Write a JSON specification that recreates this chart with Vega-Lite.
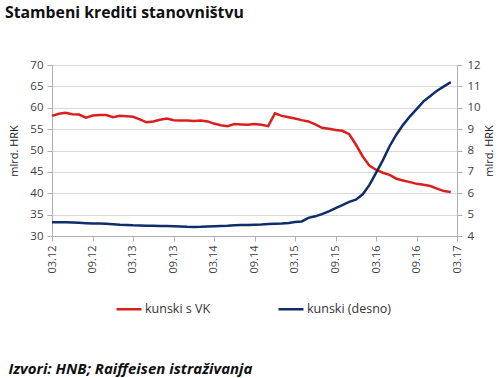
{
  "$schema": "https://vega.github.io/schema/vega-lite/v6.json",
  "width": 405,
  "height": 171,
  "autosize": {"type": "none"},
  "padding": {"left": 52, "top": 65, "right": 43, "bottom": 142},
  "background": "white",
  "title": {
    "text": "Stambeni krediti stanovništvu",
    "anchor": "start",
    "frame": "group",
    "dx": -47,
    "offset": 37,
    "font": "Open Sans",
    "fontSize": 15.8,
    "fontWeight": "bold",
    "color": "#111111"
  },
  "config": {
    "view": {"stroke": null},
    "axis": {
      "labelFont": "Open Sans",
      "labelFontSize": 11.5,
      "labelColor": "#404040",
      "titleFont": "Open Sans",
      "titleFontSize": 11,
      "titleFontWeight": "normal",
      "titleColor": "#222222",
      "domainColor": "#b0b0b0",
      "tickColor": "#b0b0b0",
      "gridColor": "#d9d9d9"
    },
    "legend": {"labelFont": "Open Sans", "labelFontSize": 12.5, "labelColor": "#333333"}
  },
  "data": {
    "values": [
      {"d": "2012-03-01", "vk": 58.1, "k": 4.64},
      {"d": "2012-04-01", "vk": 58.6, "k": 4.64},
      {"d": "2012-05-01", "vk": 58.8, "k": 4.64},
      {"d": "2012-06-01", "vk": 58.5, "k": 4.63},
      {"d": "2012-07-01", "vk": 58.4, "k": 4.62},
      {"d": "2012-08-01", "vk": 57.7, "k": 4.60},
      {"d": "2012-09-01", "vk": 58.2, "k": 4.58},
      {"d": "2012-10-01", "vk": 58.3, "k": 4.58},
      {"d": "2012-11-01", "vk": 58.3, "k": 4.57},
      {"d": "2012-12-01", "vk": 57.8, "k": 4.55},
      {"d": "2013-01-01", "vk": 58.1, "k": 4.53},
      {"d": "2013-02-01", "vk": 58.0, "k": 4.52},
      {"d": "2013-03-01", "vk": 57.9, "k": 4.50},
      {"d": "2013-04-01", "vk": 57.3, "k": 4.49},
      {"d": "2013-05-01", "vk": 56.6, "k": 4.48},
      {"d": "2013-06-01", "vk": 56.8, "k": 4.48},
      {"d": "2013-07-01", "vk": 57.2, "k": 4.47},
      {"d": "2013-08-01", "vk": 57.5, "k": 4.47},
      {"d": "2013-09-01", "vk": 57.1, "k": 4.46},
      {"d": "2013-10-01", "vk": 57.0, "k": 4.45},
      {"d": "2013-11-01", "vk": 57.0, "k": 4.43},
      {"d": "2013-12-01", "vk": 56.9, "k": 4.42},
      {"d": "2014-01-01", "vk": 57.0, "k": 4.43},
      {"d": "2014-02-01", "vk": 56.8, "k": 4.45},
      {"d": "2014-03-01", "vk": 56.3, "k": 4.46},
      {"d": "2014-04-01", "vk": 55.9, "k": 4.47},
      {"d": "2014-05-01", "vk": 55.7, "k": 4.48},
      {"d": "2014-06-01", "vk": 56.2, "k": 4.50},
      {"d": "2014-07-01", "vk": 56.1, "k": 4.51},
      {"d": "2014-08-01", "vk": 56.0, "k": 4.52},
      {"d": "2014-09-01", "vk": 56.2, "k": 4.53},
      {"d": "2014-10-01", "vk": 56.0, "k": 4.54},
      {"d": "2014-11-01", "vk": 55.7, "k": 4.56},
      {"d": "2014-12-01", "vk": 58.7, "k": 4.57},
      {"d": "2015-01-01", "vk": 58.1, "k": 4.58},
      {"d": "2015-02-01", "vk": 57.8, "k": 4.61},
      {"d": "2015-03-01", "vk": 57.5, "k": 4.65},
      {"d": "2015-04-01", "vk": 57.1, "k": 4.68},
      {"d": "2015-05-01", "vk": 56.8, "k": 4.85},
      {"d": "2015-06-01", "vk": 56.1, "k": 4.92},
      {"d": "2015-07-01", "vk": 55.3, "k": 5.02},
      {"d": "2015-08-01", "vk": 55.1, "k": 5.15},
      {"d": "2015-09-01", "vk": 54.8, "k": 5.30},
      {"d": "2015-10-01", "vk": 54.6, "k": 5.45},
      {"d": "2015-11-01", "vk": 53.8, "k": 5.60},
      {"d": "2015-12-01", "vk": 51.4, "k": 5.70},
      {"d": "2016-01-01", "vk": 48.6, "k": 5.95},
      {"d": "2016-02-01", "vk": 46.4, "k": 6.40},
      {"d": "2016-03-01", "vk": 45.5, "k": 6.95},
      {"d": "2016-04-01", "vk": 44.8, "k": 7.55},
      {"d": "2016-05-01", "vk": 44.3, "k": 8.20},
      {"d": "2016-06-01", "vk": 43.4, "k": 8.75},
      {"d": "2016-07-01", "vk": 43.0, "k": 9.20},
      {"d": "2016-08-01", "vk": 42.6, "k": 9.60},
      {"d": "2016-09-01", "vk": 42.2, "k": 9.95},
      {"d": "2016-10-01", "vk": 42.0, "k": 10.30},
      {"d": "2016-11-01", "vk": 41.7, "k": 10.55},
      {"d": "2016-12-01", "vk": 41.1, "k": 10.80},
      {"d": "2017-01-01", "vk": 40.5, "k": 11.00},
      {"d": "2017-02-01", "vk": 40.3, "k": 11.20}
    ]
  },
  "encoding": {
    "x": {
      "field": "d",
      "type": "temporal",
      "scale": {
        "type": "utc",
        "domain": [
          {"year": 2012, "month": 3, "date": 1, "utc": true},
          {"year": 2017, "month": 3, "date": 1, "utc": true}
        ]
      },
      "axis": {
        "title": "Izvori: HNB; Raiffeisen istraživanja",
        "titleFont": "Open Sans",
        "titleFontSize": 15,
        "titleFontWeight": "bold",
        "titleFontStyle": "italic",
        "titleColor": "#111111",
        "titleAnchor": "start",
        "titleAlign": "left",
        "titleBaseline": "alphabetic",
        "titleX": -44,
        "titleY": 137,
        "labelExpr": "utcFormat(datum.value, '%m.%y')",
        "labelAngle": -90,
        "labelFontSize": 11,
        "labelPadding": 4,
        "tickSize": 5,
        "grid": false,
        "values": [
          {"year": 2012, "month": 3, "date": 1, "utc": true},
          {"year": 2012, "month": 9, "date": 1, "utc": true},
          {"year": 2013, "month": 3, "date": 1, "utc": true},
          {"year": 2013, "month": 9, "date": 1, "utc": true},
          {"year": 2014, "month": 3, "date": 1, "utc": true},
          {"year": 2014, "month": 9, "date": 1, "utc": true},
          {"year": 2015, "month": 3, "date": 1, "utc": true},
          {"year": 2015, "month": 9, "date": 1, "utc": true},
          {"year": 2016, "month": 3, "date": 1, "utc": true},
          {"year": 2016, "month": 9, "date": 1, "utc": true},
          {"year": 2017, "month": 3, "date": 1, "utc": true}
        ]
      }
    }
  },
  "layer": [
    {
      "mark": {"type": "line", "strokeWidth": 2.5, "interpolate": "linear"},
      "encoding": {
        "y": {
          "field": "vk",
          "type": "quantitative",
          "scale": {"domain": [30, 70], "nice": false, "zero": false},
          "axis": {
            "title": "mlrd. HRK",
            "values": [30, 35, 40, 45, 50, 55, 60, 65, 70],
            "grid": true,
            "tickSize": 5,
            "labelPadding": 4,
            "titlePadding": 10
          }
        },
        "color": {
          "datum": "kunski s VK",
          "scale": {"domain": ["kunski s VK", "kunski (desno)"], "range": ["#d9201c", "#0f2d6b"]},
          "legend": {
            "title": null,
            "orient": "none",
            "legendX": 63,
            "legendY": 230,
            "direction": "horizontal",
            "symbolType": "stroke",
            "symbolSize": 625,
            "symbolStrokeWidth": 2.5,
            "symbolOffset": 0,
            "labelOffset": 2,
            "columnPadding": 62
          }
        }
      }
    },
    {
      "mark": {"type": "line", "strokeWidth": 2.5, "interpolate": "linear"},
      "encoding": {
        "y": {
          "field": "k",
          "type": "quantitative",
          "scale": {"domain": [4, 12], "nice": false, "zero": false},
          "axis": {
            "orient": "right",
            "title": "mlrd. HRK",
            "titleAngle": 270,
            "values": [4, 5, 6, 7, 8, 9, 10, 11, 12],
            "grid": false,
            "tickSize": 5,
            "labelPadding": 5,
            "titlePadding": 14
          }
        },
        "color": {"datum": "kunski (desno)"}
      }
    }
  ],
  "resolve": {"scale": {"y": "independent", "color": "shared"}}
}
